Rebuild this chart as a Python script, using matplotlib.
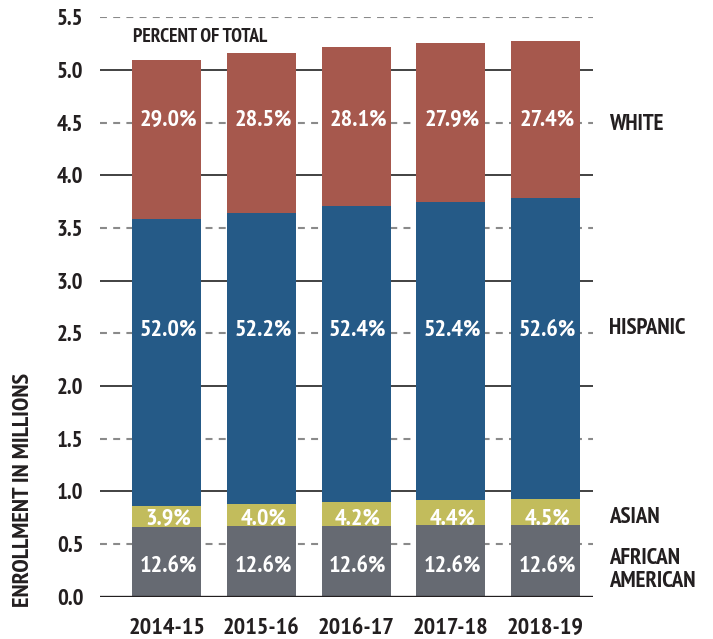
import matplotlib
matplotlib.use("Agg")
import matplotlib.pyplot as plt
import matplotlib.transforms as mtransforms
from matplotlib import font_manager as fm
import numpy as np

# pick a bold condensed sans for the whole figure
_bold = {f.name for f in fm.fontManager.ttflist if f.style == "normal"
         and isinstance(f.weight, int) and f.weight >= 700}
_bold |= {f.name for f in fm.fontManager.ttflist if f.style == "normal"
          and f.weight in ("bold", "heavy", "black")}
FONT = next((n for n in ["PT Sans Narrow", "Fira Sans Condensed",
                         "Barlow Condensed", "Archivo Narrow",
                         "Roboto Condensed", "Roboto"] if n in _bold),
            "DejaVu Sans")
plt.rcParams["font.family"] = [FONT, "DejaVu Sans"]
plt.rcParams["font.weight"] = "bold"
plt.rcParams["lines.scale_dashes"] = False

# School years and total enrollment (millions, all students)
years = ["2014-15", "2015-16", "2016-17", "2017-18", "2018-19"]
total_enrollment_m = [5.23, 5.30, 5.36, 5.40, 5.43]

# Share of total enrollment by group (percent)
african_american_pct = [12.6, 12.6, 12.6, 12.6, 12.6]
asian_pct = [3.9, 4.0, 4.2, 4.4, 4.5]
hispanic_pct = [52.0, 52.2, 52.4, 52.4, 52.6]
white_pct = [29.0, 28.5, 28.1, 27.9, 27.4]

group_pcts = [african_american_pct, asian_pct, hispanic_pct, white_pct]
colors = ["#666A72", "#C2BC5C", "#255A87", "#A6584D"]

# group names shown to the right of the bars, one entry per line
group_lines = ["AFRICAN", "AMERICAN", "ASIAN", "HISPANIC", "WHITE"]
group_line_y = [0.391, 0.168, 0.776, 2.571, 4.509]

# vertical centre of the in-bar percentage rows
pct_label_y = [0.315, 0.762, 2.557, 4.552]

yticks = [0.0, 0.5, 1.0, 1.5, 2.0, 2.5, 3.0, 3.5, 4.0, 4.5, 5.0, 5.5]

TEXT = "#231F20"
PCT_SIZE = 17.5
GROUP_SIZE = 16.5

fig = plt.figure(figsize=(7.13, 6.39), dpi=100)
ax = fig.add_axes([100 / 713, 1 - 596.7 / 639, 493 / 713, (596.7 - 17.3) / 639])


def cap_centered(transform, size):
    """Shift a baseline-anchored text so its capitals are centred on y."""
    return mtransforms.offset_copy(transform, fig=fig, y=-0.35 * size,
                                   units="points")


x = np.arange(len(years))
totals = np.array(total_enrollment_m)
bottom = np.zeros(len(years))

# gridlines: solid at whole numbers, dashed at halves
for v in yticks:
    if v == 0:
        continue
    if float(v).is_integer():
        ax.axhline(v, color="#333333", lw=1.3, zorder=0)
    else:
        ax.axhline(v, color="#8A8A8A", lw=1.5, dashes=[5.0, 4.5], zorder=0)
ax.axhline(0, color=TEXT, lw=2.4, zorder=3)

for pcts, col, ly in zip(group_pcts, colors, pct_label_y):
    heights = totals * np.array(pcts) / 100.0
    ax.bar(x, heights, bottom=bottom, width=0.728, color=col, zorder=2,
           linewidth=0)
    for xi, p in zip(x, pcts):
        ax.text(xi + 0.02, ly, f"{p:.1f}%", ha="center", va="baseline",
                color="white", fontsize=PCT_SIZE, fontweight="bold", zorder=4,
                transform=cap_centered(ax.transData, PCT_SIZE))
    bottom = bottom + heights

group_trans = mtransforms.blended_transform_factory(fig.transFigure,
                                                    ax.transData)
for name, gy in zip(group_lines, group_line_y):
    ax.text(609 / 713, gy, name, ha="left", va="baseline", color=TEXT,
            fontsize=GROUP_SIZE, fontweight="bold", clip_on=False,
            transform=cap_centered(group_trans, GROUP_SIZE))

ax.text(-0.354, 5.326, "PERCENT OF TOTAL", ha="left", va="baseline",
        color=TEXT, fontsize=14, fontweight="bold",
        transform=cap_centered(ax.transData, 14))

ax.set_xlim(-0.702, 4.501)
ax.set_ylim(0, 5.5)
ax.set_xticks(x)
ax.set_xticklabels(years, fontsize=17.5, fontweight="bold", color=TEXT)
ax.set_yticks(yticks)
ax.set_yticklabels([f"{v:.1f}" for v in yticks], fontsize=16.5,
                   fontweight="bold", color=TEXT)
ax.tick_params(length=0, axis="y", pad=12)
ax.tick_params(length=0, axis="x", pad=15)
for s in ax.spines.values():
    s.set_visible(False)

fig.text(24 / 713, 1 - 490 / 639, "ENROLLMENT IN MILLIONS", rotation=90,
         ha="center", va="center", color=TEXT, fontsize=17.5,
         fontweight="bold")

fig.savefig("out.png", dpi=100, facecolor="white")
